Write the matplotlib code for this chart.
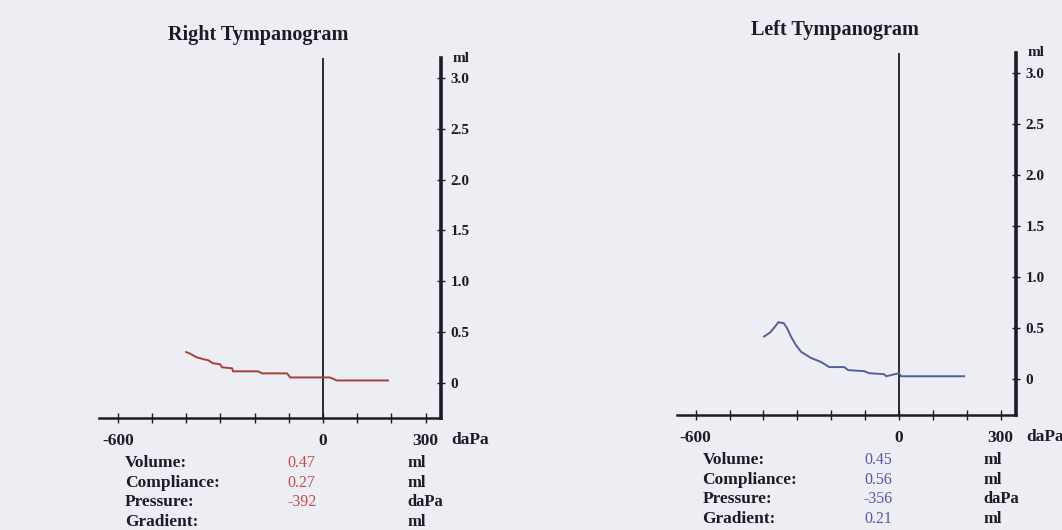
import matplotlib
matplotlib.use("Agg")
import matplotlib.pyplot as plt
from matplotlib.ticker import FixedLocator

# Pressure sweep (daPa) and admittance (ml) for each ear
right_pressure = [-400, -392, -370, -350, -336, -322, -301, -295, -266, -263,
                  -190, -178, -105, -96, 20, 41, 190]
right_volume = [0.30, 0.29, 0.25, 0.23, 0.22, 0.19, 0.18, 0.15, 0.14, 0.11,
                0.11, 0.09, 0.09, 0.05, 0.05, 0.02, 0.02]

left_pressure = [-398, -380, -365, -356, -340, -330, -319, -305, -289, -260,
                 -230, -206, -162, -150, -103, -88, -44, -38, 0, 6, 192]
left_volume = [0.42, 0.46, 0.52, 0.56, 0.55, 0.50, 0.42, 0.34, 0.27, 0.21,
               0.17, 0.12, 0.12, 0.09, 0.08, 0.06, 0.05, 0.03, 0.06, 0.03, 0.03]

row_labels = ["Volume:", "Compliance:", "Pressure:", "Gradient:"]
row_units = ["ml", "ml", "daPa", "ml"]
right_results = ["0.47", "0.27", "-392", ""]
left_results = ["0.45", "0.56", "-356", "0.21"]

x_ticks = [-600, -500, -400, -300, -200, -100, 0, 100, 200, 300]
x_tick_labels = ["-600", "", "", "", "", "", "0", "", "", "300"]
y_ticks = [0, 0.5, 1.0, 1.5, 2.0, 2.5, 3.0]
y_tick_labels = ["0", "0.5", "1.0", "1.5", "2.0", "2.5", "3.0"]

BG = "#ededf4"
INK = "#1c1c28"
SERIF = ["Liberation Serif", "DejaVu Serif"]

W, H, DPI = 1062, 530, 100
fig = plt.figure(figsize=(W / DPI, H / DPI), dpi=DPI, facecolor=BG)
plt.rcParams["font.family"] = SERIF


def px_axes(left, top, right, bottom):
    return fig.add_axes([left / W, 1 - bottom / H, (right - left) / W, (bottom - top) / H])


def pt(px):
    return px * 72.0 / DPI


def panel(ax, title, pressure, volume, line_color, results, value_color):
    ax.set_facecolor("none")
    ax.set_xlim(-655, 345)
    ax.set_ylim(-0.35, 3.2)
    for side in ("left", "top"):
        ax.spines[side].set_visible(False)
    ax.spines["bottom"].set_linewidth(1.8)
    ax.spines["right"].set_linewidth(2.6)
    ax.spines["bottom"].set_color(INK)
    ax.spines["right"].set_color(INK)

    ax.xaxis.set_major_locator(FixedLocator(x_ticks))
    ax.set_xticklabels(x_tick_labels)
    ax.yaxis.tick_right()
    ax.yaxis.set_major_locator(FixedLocator(y_ticks))
    ax.set_yticklabels(y_tick_labels)
    ax.tick_params(axis="x", direction="inout", length=7, width=1.0, color=INK,
                   pad=7, labelsize=12.5, labelcolor=INK)
    ax.tick_params(axis="y", direction="inout", length=6, width=1.0, color=INK,
                   pad=4, labelsize=11, labelcolor=INK)
    for lab in ax.get_xticklabels() + ax.get_yticklabels():
        lab.set_fontweight("bold")

    ax.axvline(0, color=INK, lw=1.3)
    ax.plot(pressure, volume, color=line_color, lw=1.4, solid_joinstyle="miter")

    ax.annotate(title, xy=(-190, 1), xycoords=("data", "axes fraction"),
                xytext=(0, pt(23)), textcoords="offset points",
                ha="center", va="center", fontsize=14.5, fontweight="bold", color=INK)
    ax.annotate("ml", xy=(1, 1), xycoords="axes fraction",
                xytext=(pt(12), 0), textcoords="offset points",
                ha="left", va="center", fontsize=11, fontweight="bold", color=INK)
    ax.annotate("daPa", xy=(1, 0), xycoords="axes fraction",
                xytext=(pt(10), -pt(22)), textcoords="offset points",
                ha="left", va="center", fontsize=12.5, fontweight="bold", color=INK)

    for i, (lab, val, unit) in enumerate(zip(row_labels, results, row_units)):
        dy = -pt(45 + 19.7 * i)
        ax.annotate(lab, xy=(-580, 0), xycoords=("data", "axes fraction"),
                    xytext=(0, dy), textcoords="offset points",
                    ha="left", va="center", fontsize=12.5, fontweight="bold", color=INK)
        ax.annotate(val, xy=(-62, 0), xycoords=("data", "axes fraction"),
                    xytext=(0, dy), textcoords="offset points",
                    ha="center", va="center", fontsize=11.5, color=value_color)
        ax.annotate(unit, xy=(248, 0), xycoords=("data", "axes fraction"),
                    xytext=(0, dy), textcoords="offset points",
                    ha="left", va="center", fontsize=12, fontweight="bold", color=INK)


ax_r = px_axes(99, 58, 441, 418)
panel(ax_r, "Right Tympanogram", right_pressure, right_volume, "#a8403a",
      right_results, "#c8484c")

ax_l = px_axes(677, 53, 1016, 415)
panel(ax_l, "Left Tympanogram", left_pressure, left_volume, "#51609c",
      left_results, "#5656a6")

fig.savefig("out.png", dpi=DPI, facecolor=BG)
